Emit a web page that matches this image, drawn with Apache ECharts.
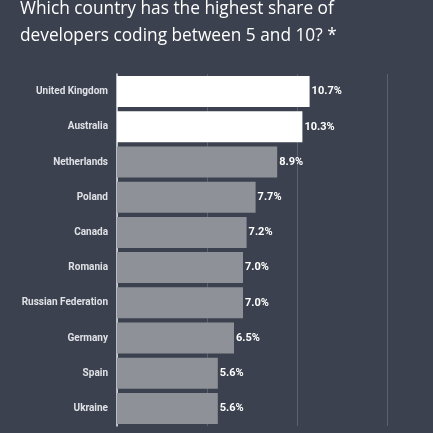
<!DOCTYPE html>
<html>
<head>
    <meta charset="utf-8">
    <title>Developers coding between 5 and 10</title>
    <script src="https://cdn.jsdelivr.net/npm/echarts@6/dist/echarts.min.js"></script>
    <style>
        html, body { margin: 0; padding: 0; background: #3b414e; overflow: hidden; }
    </style>
</head>
<body>
<div id="main" style="width: 433px;height:433px;"></div>
<script type="text/javascript">
    // data
    var titleLines = ['Which country has the highest share of',
        'developers coding between 5 and 10? *'];
    var countries = ['United Kingdom', 'Australia', 'Netherlands', 'Poland', 'Canada',
        'Romania', 'Russian Federation', 'Germany', 'Spain', 'Ukraine'];
    var shares = [10.7, 10.3, 8.9, 7.7, 7.2, 7.0, 7.0, 6.5, 5.6, 5.6];
    var highlighted = ['United Kingdom', 'Australia'];

    var myChart = echarts.init(document.getElementById('main'));

    var titleStyle = {
        color: '#ffffff',
        fontFamily: 'Open Sans',
        fontWeight: 'normal',
        fontSize: 17.3
    };

    myChart.setOption({
        backgroundColor: '#3b414e',
        animation: false,
        title: titleLines.map(function (line, i) {
            return {
                text: line,
                left: 20,
                top: 1 + i * 27,
                padding: 0,
                textStyle: titleStyle
            };
        }),
        grid: {
            left: 117,
            right: 46,
            top: 74,
            bottom: 7
        },
        xAxis: {
            type: 'value',
            min: 0,
            max: 15,
            interval: 5,
            axisLabel: { show: false },
            axisLine: { show: false },
            axisTick: { show: false },
            splitLine: {
                lineStyle: { color: '#5b6170', width: 1 }
            }
        },
        yAxis: {
            type: 'category',
            inverse: true,
            data: countries,
            axisTick: { show: false },
            axisLine: {
                lineStyle: { color: '#e6e8ec', width: 1.5 }
            },
            axisLabel: {
                color: '#dfe1e6',
                fontFamily: 'Roboto',
                fontWeight: 'bold',
                fontSize: 10,
                margin: 9
            }
        },
        series: [
            {
                type: 'bar',
                barCategoryGap: '12%',
                data: countries.map(function (name, i) {
                    var hi = highlighted.indexOf(name) >= 0;
                    return {
                        value: shares[i],
                        itemStyle: {
                            color: hi ? '#ffffff' : '#8e9198'
                        }
                    };
                }),
                label: {
                    show: true,
                    position: 'right',
                    distance: 2,
                    color: '#ffffff',
                    fontFamily: 'Roboto',
                    fontWeight: 'bold',
                    fontSize: 11,
                    formatter: function (p) {
                        return p.value.toFixed(1) + '%';
                    }
                }
            }
        ]
    });
</script>
</body>
</html>
